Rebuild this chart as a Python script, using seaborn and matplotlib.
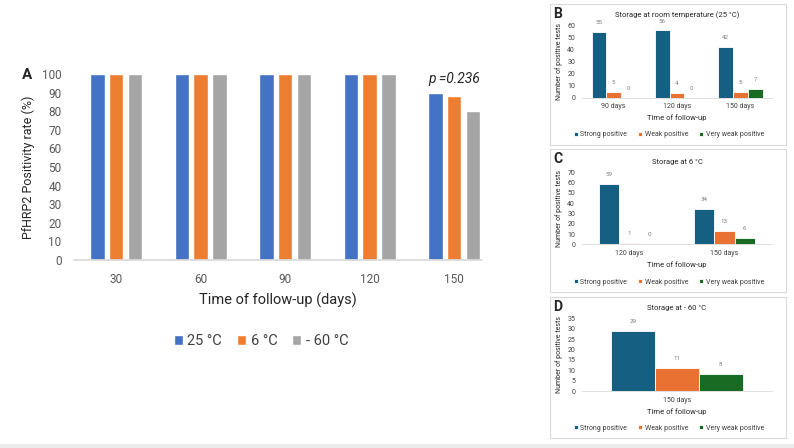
import pandas as pd
import numpy as np
import matplotlib
matplotlib.use("Agg")
import matplotlib.pyplot as plt
import matplotlib.patches as patches
import seaborn as sns

# panel A data
days = ["30", "60", "90", "120", "150"]
temps = ["25 °C", "6 °C", "- 60 °C"]
rate_25 = [100, 100, 100, 100, 90]
rate_6 = [100, 100, 100, 100, 88]
rate_m60 = [100, 100, 100, 100, 80]

# panels B-D data
grades = ["Strong positive", "Weak positive", "Very weak positive"]
b_days = ["90 days", "120 days", "150 days"]
b_strong = [55, 56, 42]
b_weak = [5, 4, 5]
b_vweak = [0, 0, 7]
c_days = ["120 days", "150 days"]
c_strong = [59, 34]
c_weak = [1, 13]
c_vweak = [0, 6]
d_days = ["150 days"]
d_strong = [29]
d_weak = [11]
d_vweak = [8]

sns.set_theme(style="white")
plt.rcParams["font.family"] = ["Roboto", "DejaVu Sans"]

fig = plt.figure(figsize=(7.94, 4.48), dpi=100)
W, H = 794, 448

def fx(px):
    return px / W

def fy(py):
    return 1 - py / H

# ---------- panel A ----------
dfa = pd.DataFrame({
    "day": days * 3,
    "temp": [temps[0]] * 5 + [temps[1]] * 5 + [temps[2]] * 5,
    "rate": rate_25 + rate_6 + rate_m60,
})
axa = fig.add_axes([fx(74), fy(260), fx(408), 186 / H])
sns.barplot(data=dfa, x="day", y="rate", hue="temp", ax=axa,
            palette=["#4472C4", "#ED7D31", "#A5A5A5"], width=0.667, gap=0.23,
            saturation=1, legend=True)
axa.set_ylim(0, 100)
axa.set_xlim(-0.5, 4.33)
axa.set_yticks(range(0, 101, 10))
for s in ["top", "right", "left"]:
    axa.spines[s].set_visible(False)
axa.spines["bottom"].set_color("#D9D9D9")
axa.tick_params(axis="y", length=0, pad=9, labelsize=8.5, labelcolor="#595959")
axa.tick_params(axis="x", length=0, pad=9, labelsize=8.5, labelcolor="#595959")
axa.set_xlabel("Time of follow-up (days)", fontsize=10.5, color="#262626", labelpad=5)
axa.set_ylabel("PfHRP2 Positivity rate (%)", fontsize=9, color="#262626", labelpad=5)
axa.text(4, 97.5, "p =0.236", style="italic", fontsize=10, ha="center", va="center",
         color="#262626")
h, l = axa.get_legend_handles_labels()
axa.legend(h, l, loc="center", bbox_to_anchor=(fx(261), fy(341)),
           bbox_transform=fig.transFigure, ncol=3, frameon=False, fontsize=10.5,
           handlelength=0.65, handleheight=0.65, handletextpad=0.3, columnspacing=1.0,
           labelcolor="#404040")
fig.text(fx(27), fy(75), "A", fontsize=11, fontweight="bold", ha="center", va="center")

# ---------- panels B-D ----------
gcol = ["#156082", "#E97132", "#196B24"]

def small_panel(letter, title, cats, strong, weak, vweak, ymax, ystep,
                box_top, box_bot, ax_top, ax_bot, width):
    fig.patches.append(patches.Rectangle((fx(550), fy(box_bot)), fx(236), (box_bot - box_top) / H,
                                         transform=fig.transFigure, fill=False,
                                         edgecolor="#D9D9D9", lw=0.8))
    df = pd.DataFrame({
        "day": cats * 3,
        "grade": [grades[0]] * len(cats) + [grades[1]] * len(cats) + [grades[2]] * len(cats),
        "n": strong + weak + vweak,
    })
    ax = fig.add_axes([fx(582), fy(ax_bot), fx(190), (ax_bot - ax_top) / H])
    sns.barplot(data=df, x="day", y="n", hue="grade", ax=ax, palette=gcol,
                width=width, saturation=1, edgecolor="white", linewidth=0.6)
    ax.set_ylim(0, ymax)
    ax.set_xlim(-0.5, len(cats) - 0.5)
    ax.set_yticks(np.arange(0, ymax + 1, ystep))
    for s in ["top", "right", "left"]:
        ax.spines[s].set_visible(False)
    ax.spines["bottom"].set_color("#D9D9D9")
    ax.spines["bottom"].set_linewidth(0.6)
    ax.tick_params(axis="y", length=0, pad=5, labelsize=5, labelcolor="#404040")
    ax.tick_params(axis="x", length=0, pad=4, labelsize=5, labelcolor="#404040")
    for c in ax.containers:
        ax.bar_label(c, fontsize=4.5, color="#7F7F7F", padding=5)
    ax.set_xlabel("Time of follow-up", fontsize=5.5, color="#262626", labelpad=3)
    ax.set_ylabel("Number of positive tests", fontsize=5, color="#262626", labelpad=3)
    ax.set_title(title, fontsize=5.5, color="#262626", pad=6)
    h, l = ax.get_legend_handles_labels()
    ax.legend(h, l, loc="center", bbox_to_anchor=(fx(669), fy(box_bot - 10)),
              bbox_transform=fig.transFigure, ncol=3, frameon=False, fontsize=5,
              handlelength=0.5, handleheight=0.5, handletextpad=0.4, columnspacing=1.6,
              labelcolor="#404040")
    fig.text(fx(558), fy(box_top + 10), letter, fontsize=10, fontweight="bold",
             ha="center", va="center")

small_panel("B", "Storage at room temperature (25 °C)", b_days, b_strong, b_weak, b_vweak,
            60, 10, 4, 145, 25.7, 97.7, 0.7)
small_panel("C", "Storage at 6 °C", c_days, c_strong, c_weak, c_vweak,
            70, 10, 149, 292, 172.3, 244.3, 0.64)
small_panel("D", "Storage at - 60 °C", d_days, d_strong, d_weak, d_vweak,
            35, 5, 297, 438, 318.3, 391, 0.69)

# light strip at the very bottom
fig.patches.append(patches.Rectangle((0, 0), 1, 4 / H, transform=fig.transFigure,
                                     color="#EBEBEB", lw=0))

fig.savefig("out.png", dpi=100)
